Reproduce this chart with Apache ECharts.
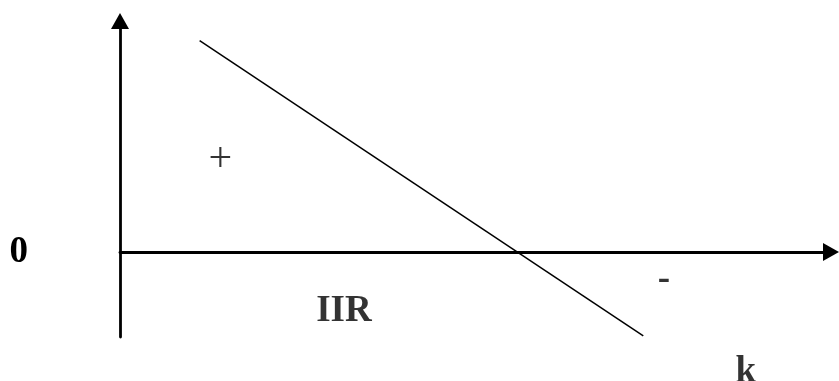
<!DOCTYPE html>
<html>
  <head>
    <meta charset="utf-8" />
    <title>IIR</title>
    <script src="https://cdn.jsdelivr.net/npm/echarts@6/dist/echarts.min.js"></script>
    <style>
      html, body { margin: 0; padding: 0; background: #fff; }
    </style>
  </head>
  <body>
    <div id="main" style="width: 839px; height: 381px"></div>

    <script type="text/javascript">
      // the falling line (k on x, value on y)
      var lineX = [1.12, 7.36];
      var lineY = [3.66, -1.45];

      // text annotations placed in data units
      var noteText = ["+", "IIR", "-", "k"];
      var noteX = [1.41, 3.15, 7.65, 8.8];
      var noteY = [1.6, -1.03, -0.48, -2.08];

      var yTicks = [0];

      var myChart = echarts.init(document.getElementById("main"));

      var font = "'Liberation Serif', 'Times New Roman', serif";

      var option = {
        animation: false,
        grid: { left: 120, right: 8, top: 21, bottom: 44 },
        xAxis: {
          type: "value",
          min: 0,
          max: 10,
          splitLine: { show: false },
          axisTick: { show: false },
          axisLabel: { show: false },
          axisLine: {
            onZero: true,
            symbol: ["none", "triangle"],
            symbolSize: [18, 16],
            lineStyle: { color: "#000", width: 2.8 },
          },
        },
        yAxis: {
          type: "value",
          min: -1.47,
          max: 4,
          splitLine: { show: false },
          axisTick: { show: false },
          axisLine: {
            onZero: false,
            symbol: ["none", "triangle"],
            symbolSize: [18, 16],
            lineStyle: { color: "#000", width: 2.8 },
          },
          axisLabel: {
            customValues: yTicks,
            margin: 92,
            color: "#000",
            fontFamily: font,
            fontWeight: "bold",
            fontSize: 37,
          },
        },
        series: [
          {
            type: "line",
            data: lineX.map(function (x, i) {
              return [x, lineY[i]];
            }),
            symbol: "none",
            lineStyle: { color: "#000", width: 1.5 },
          },
          {
            type: "scatter",
            clip: false,
            symbolSize: 0,
            data: noteText.map(function (t, i) {
              return {
                value: [noteX[i], noteY[i]],
                name: t,
                label: t === "+" ? { fontWeight: "normal", fontSize: 42 } : { fontWeight: "bold" },
              };
            }),
            label: {
              show: true,
              position: "inside",
              formatter: "{b}",
              color: "#000",
              fontFamily: font,
              fontSize: 37,
            },
          },
        ],
      };
      myChart.setOption(option);
    </script>
  </body>
</html>
